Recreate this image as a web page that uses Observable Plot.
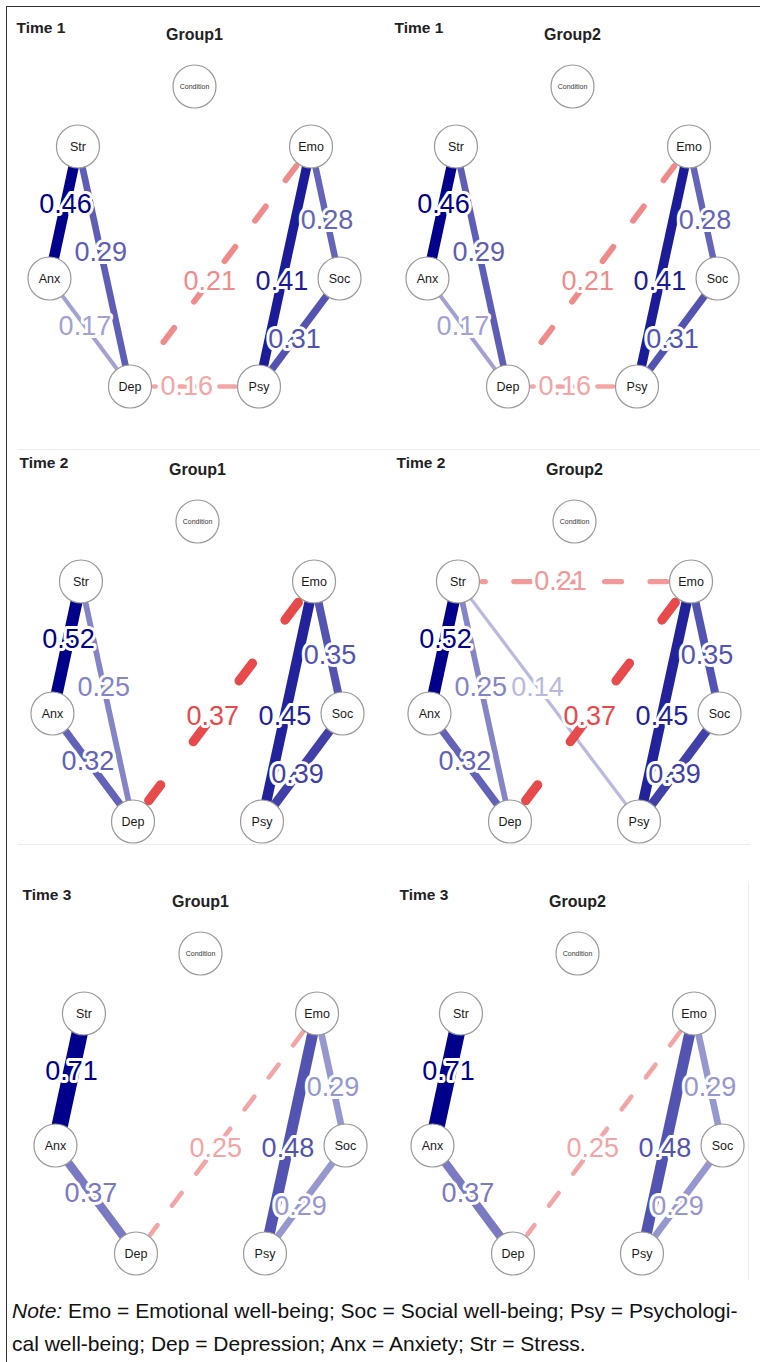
<!DOCTYPE html>
<html><head><meta charset="utf-8">
<script src="https://cdn.jsdelivr.net/npm/d3@7"></script>
<script src="https://cdn.jsdelivr.net/npm/@observablehq/plot@0.6"></script>
<style>
body{margin:0;background:#fff;}
#fig{position:relative;width:760px;height:1362px;overflow:hidden;font-family:"Liberation Sans",Arial,Helvetica,sans-serif;background:#fff;}
.frame{position:absolute;left:6px;top:6px;width:800px;height:1400px;border-left:1px solid #333;border-top:1px solid #333;}
.panel{position:absolute;}
.panel svg{overflow:visible;}
.sep{position:absolute;background:#ededed;}
#note{position:absolute;left:12px;top:1294px;font-size:21px;line-height:33px;color:#111;white-space:nowrap;}
</style></head>
<body><div id="fig"><div class="frame"></div>
<div class="sep" style="left:18px;top:449px;width:742px;height:1px"></div>
<div class="sep" style="left:18px;top:844px;width:732px;height:1px"></div>
<div class="sep" style="left:748px;top:883px;width:1px;height:397px"></div>
</div>
<script>
// ---- data ----
const nodes   = ["Condition", "Str", "Emo", "Anx", "Soc", "Dep", "Psy"];
const layoutX = [0, -0.777, 0.777, -0.967, 0.967, -0.43, 0.43];
const layoutY = [1, 0.6, 0.6, -0.28, -0.28, -1, -1];
const noteOrder = ["Emo", "Soc", "Psy", "Dep", "Anx", "Str"];

const times  = ["Time 1", "Time 1", "Time 2", "Time 2", "Time 3", "Time 3"];
const groups = ["Group1", "Group2", "Group1", "Group2", "Group1", "Group2"];

const edgesTime1 = [
  ["Str", "Anx", 0.46], ["Str", "Dep", 0.29], ["Anx", "Dep", 0.17],
  ["Dep", "Emo", -0.21], ["Dep", "Psy", -0.16],
  ["Emo", "Psy", 0.41], ["Emo", "Soc", 0.28], ["Soc", "Psy", 0.31]
];
const edgesTime2Group1 = [
  ["Str", "Anx", 0.52], ["Str", "Dep", 0.25], ["Anx", "Dep", 0.32],
  ["Dep", "Emo", -0.37],
  ["Emo", "Psy", 0.45], ["Emo", "Soc", 0.35], ["Soc", "Psy", 0.39]
];
const edgesTime2Group2 = [
  ["Str", "Anx", 0.52], ["Str", "Dep", 0.25], ["Anx", "Dep", 0.32],
  ["Dep", "Emo", -0.37], ["Str", "Emo", -0.21], ["Str", "Psy", 0.14],
  ["Emo", "Psy", 0.45], ["Emo", "Soc", 0.35], ["Soc", "Psy", 0.39]
];
const edgesTime3 = [
  ["Str", "Anx", 0.71], ["Anx", "Dep", 0.37],
  ["Dep", "Emo", -0.25],
  ["Emo", "Psy", 0.48], ["Emo", "Soc", 0.29], ["Soc", "Psy", 0.29]
];
const panelEdges = [edgesTime1, edgesTime1, edgesTime2Group1, edgesTime2Group2, edgesTime3, edgesTime3];

// ---- layout / style ----
const panelLeft = [0, 378, 3, 380, 6, 383];
const panelTop  = [0, 0, 435, 435, 867, 867];
const CX = 194, CY = 86, UNIT = 150;   // pixels per layout unit
const NODE_R = 21.5;
const FONT = '"Liberation Sans", Arial, Helvetica, sans-serif';
const POS_COL = "#00008B", NEG_COL = "#DD0000";

const pos = Object.fromEntries(nodes.map((n, k) => [n, [layoutX[k], layoutY[k]]]));
const nodeData = nodes.map((n, k) => ({name: n, x: layoutX[k], y: layoutY[k]}));

function buildPanel(i) {
  const edges = panelEdges[i];
  const maxW = d3.max(edges, e => Math.abs(e[2]));
  const R = NODE_R / UNIT;
  const E = edges.map(([a, b, w]) => {
    // orient from the node listed earlier in the note
    let from = a, to = b;
    if (noteOrder.indexOf(b) < noteOrder.indexOf(a)) { from = b; to = a; }
    const [x1, y1] = pos[from], [x2, y2] = pos[to];
    const rel = Math.abs(w) / maxW;
    const neg = w < 0;
    const color = d3.interpolateRgb("#ffffff", neg ? NEG_COL : POS_COL)(rel);
    const width = neg ? 13 * rel : 23 * Math.abs(w);
    const dx = x2 - x1, dy = y2 - y1, L = Math.hypot(dx, dy);
    const ux = dx / L, uy = dy / L;
    const s = R + (width / 2) / UNIT;
    const t = 0.56;
    return {
      w, rel, neg, color, width,
      x1, y1, x2, y2,
      sx1: x1 + ux * s, sy1: y1 + uy * s, sx2: x2 - ux * s, sy2: y2 - uy * s,
      lx: x1 + dx * t, ly: y1 + dy * t,
      label: Math.abs(w).toFixed(2)
    };
  }).sort((p, q) => Math.abs(p.w) - Math.abs(q.w));

  const marks = [];
  marks.push(Plot.link(E.filter(e => !e.neg), {
    x1: "x1", y1: "y1", x2: "x2", y2: "y2",
    stroke: "color", strokeWidth: "width", strokeLinecap: "butt"
  }));
  for (const e of E.filter(e => e.neg)) {
    const on = 10 + 17 * e.rel;
    const period = 5 + 100 * e.rel;
    marks.push(Plot.link([e], {
      x1: "sx1", y1: "sy1", x2: "sx2", y2: "sy2",
      stroke: e.color, strokeWidth: e.width, strokeLinecap: "round",
      strokeDasharray: `${on.toFixed(1)},${(period - on).toFixed(1)}`
    }));
  }
  marks.push(Plot.text(E, {
    x: "lx", y: "ly", text: "label", fill: "color",
    stroke: "white", strokeWidth: 6, paintOrder: "stroke", strokeLinejoin: "round",
    fontSize: 27, fontFamily: FONT
  }));
  marks.push(Plot.dot(nodeData, {
    x: "x", y: "y", r: NODE_R, fill: "white", stroke: "#9a9a9a", strokeWidth: 1.2
  }));
  marks.push(Plot.text(nodeData.filter(d => d.name !== "Condition"), {
    x: "x", y: "y", text: "name", fill: "#1a1a1a", fontSize: 12.5, fontFamily: FONT
  }));
  marks.push(Plot.text(nodeData.filter(d => d.name === "Condition"), {
    x: "x", y: "y", text: "name", fill: "#333", fontSize: 7, fontFamily: FONT
  }));
  marks.push(Plot.text([times[i]], {
    frameAnchor: "top-left", dx: 16, dy: 28, textAnchor: "start", lineAnchor: "middle",
    fill: "#222", fontSize: 15.5, fontWeight: "bold", fontFamily: FONT
  }));
  marks.push(Plot.text([{x: 0, y: 1, t: groups[i]}], {
    x: "x", y: "y", text: "t", dy: -52, lineAnchor: "middle",
    fill: "#222", fontSize: 16, fontWeight: "bold", fontFamily: FONT
  }));

  return Plot.plot({
    width: 375, height: 425, margin: 0,
    x: {domain: [-1, 1], range: [CX - UNIT, CX + UNIT], axis: null},
    y: {domain: [-1, 1], range: [CY + 2 * UNIT, CY], axis: null},
    style: {background: "transparent", fontFamily: FONT},
    marks
  });
}

const fig = document.getElementById("fig");
for (let i = 0; i < 6; i++) {
  const div = document.createElement("div");
  div.className = "panel";
  div.style.left = panelLeft[i] + "px";
  div.style.top = panelTop[i] + "px";
  div.appendChild(buildPanel(i));
  fig.appendChild(div);
}
const note = document.createElement("div");
note.id = "note";
note.innerHTML = "<i>Note:</i> Emo = Emotional well-being; Soc = Social well-being; Psy = Psychologi-<br>cal well-being; Dep = Depression; Anx = Anxiety; Str = Stress.";
fig.appendChild(note);
</script>
</body></html>
